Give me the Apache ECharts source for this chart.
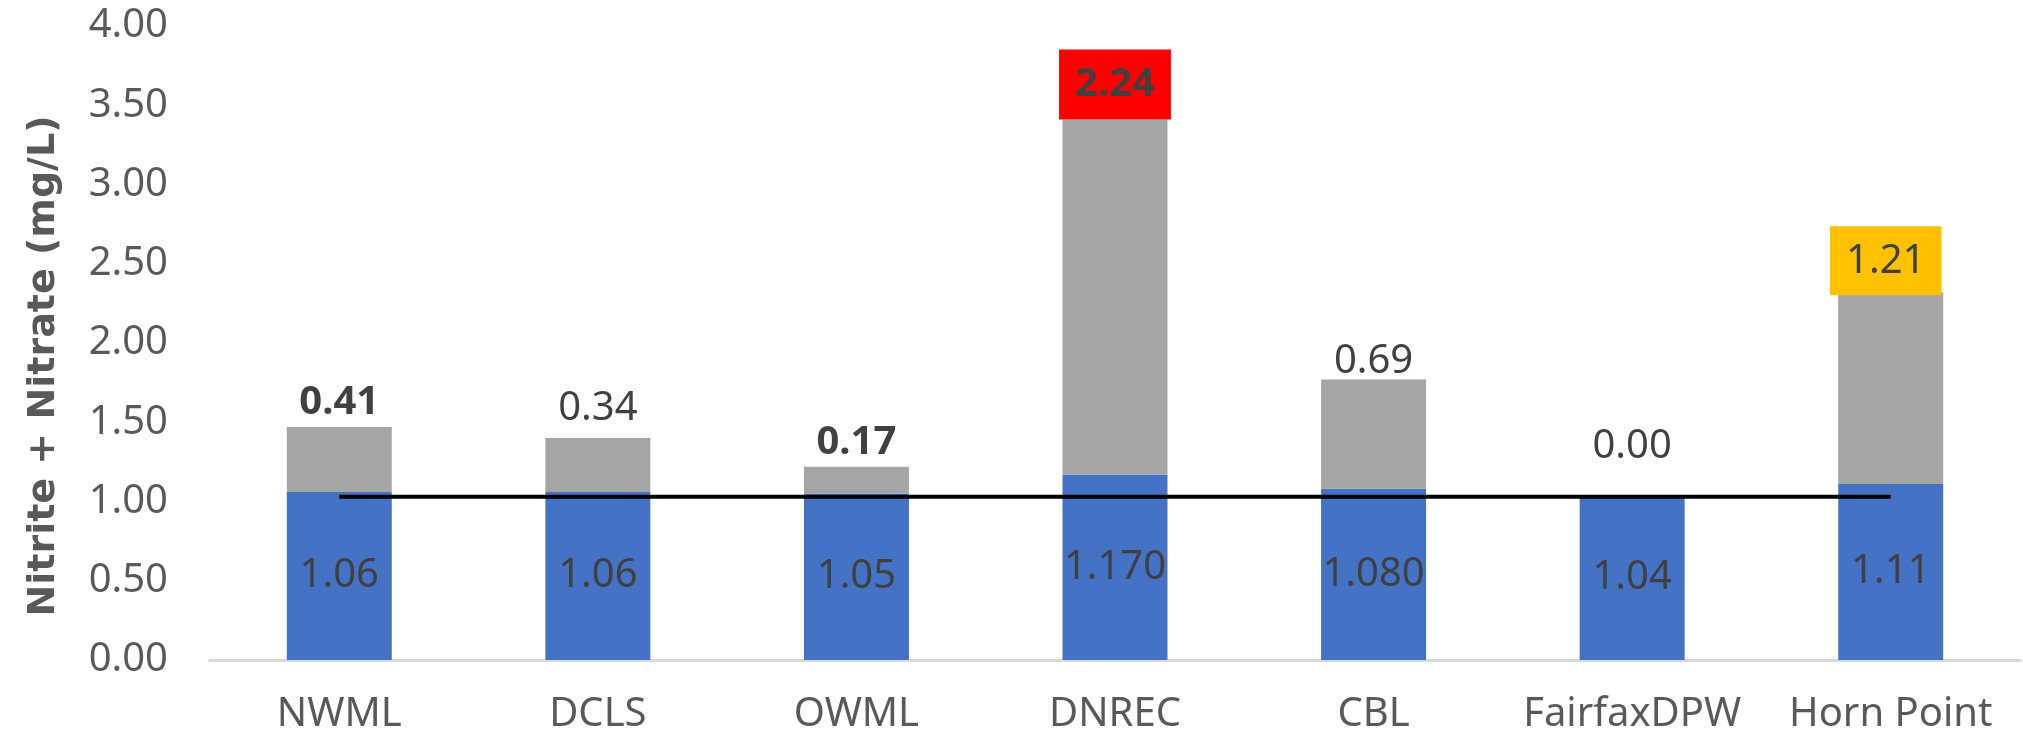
<!DOCTYPE html>
<html><head><meta charset="utf-8">
<script src="https://cdn.jsdelivr.net/npm/echarts@6/dist/echarts.min.js"></script>
<style>html,body{margin:0;padding:0;background:#fff}#c{width:2023px;height:745px}</style>
</head><body><div id="c"></div>
<script>
var categories = ['NWML','DCLS','OWML','DNREC','CBL','FairfaxDPW','Horn Point'];
var blueValues = [1.06, 1.06, 1.05, 1.17, 1.08, 1.04, 1.11];
var blueLabels = ['1.06','1.06','1.05','1.170','1.080','1.04','1.11'];
var grayValues = [0.41, 0.34, 0.17, 2.24, 0.69, 0.00, 1.21];
var refLine = [1.03, 1.03, 1.03, 1.03, 1.03, 1.03, 1.03];
var yTicks = ['0.00','0.50','1.00','1.50','2.00','2.50','3.00','3.50','4.00'];

var FONT = '"Noto Sans", "Open Sans", sans-serif';
var TXT = '#404040';
var FS = 40;

// per-item label styling for the gray series
function grayLabel(i) {
  var base = { show: true, position: 'top', distance: 4, color: TXT, fontSize: FS, fontFamily: FONT,
               formatter: function (p) { return p.value.toFixed(2); } };
  if (i === 0 || i === 2) base.fontWeight = 'bold';
  if (i === 3) { base.fontWeight = 'bold'; base.backgroundColor = '#FF0000'; base.padding = [15, 16, 15, 16]; base.distance = 0; }
  if (i === 6) { base.backgroundColor = '#FFC000'; base.padding = [15, 16, 14, 16]; base.distance = 0; base.offset = [-5, 3]; }
  if (i === 5) base.offset = [0, -25];
  if (i === 4) base.offset = [0, 6];
  if (i === 1) base.offset = [0, -5];
  return base;
}

var chart = echarts.init(document.getElementById('c'), null, { renderer: 'canvas' });
chart.setOption({
  backgroundColor: '#ffffff',
  animation: false,
  grid: { left: 210, right: 3, top: 26, bottom: 85, containLabel: false },
  xAxis: {
    type: 'category', data: categories,
    axisLine: { show: true, lineStyle: { color: '#D9D9D9', width: 3 } },
    axisTick: { show: false },
    axisLabel: { interval: 0, color: '#595959', fontSize: FS, fontFamily: FONT, margin: 35 }
  },
  yAxis: {
    type: 'value', min: 0, max: 4, interval: 0.5,
    name: 'Nitrite + Nitrate (mg/L)', nameLocation: 'middle', nameGap: 147, nameRotate: 90,
    nameTextStyle: { color: '#595959', fontSize: 38, fontWeight: 'bold', fontFamily: '"DejaVu Sans", sans-serif',
                     padding: [0, 46, 0, 0] },
    axisLine: { show: false }, axisTick: { show: false },
    splitLine: { show: false },
    axisLabel: { color: '#595959', fontSize: FS, fontFamily: FONT, margin: 42,
                 formatter: function (v) { return yTicks[Math.round(v / 0.5)]; } }
  },
  series: [
    {
      name: 'blue', type: 'bar', stack: 's', barWidth: '40.6%',
      itemStyle: { color: '#4472C4' },
      label: { show: true, position: 'inside', color: TXT, fontSize: FS, fontFamily: FONT,
               formatter: function (p) { return blueLabels[p.dataIndex]; } },
      data: blueValues
    },
    {
      name: 'gray', type: 'bar', stack: 's', barWidth: '40.6%',
      itemStyle: { color: '#A5A5A5' },
      data: grayValues.map(function (v, i) { return { value: v, label: grayLabel(i) }; })
    },
    {
      name: 'ref', type: 'line', data: refLine, symbol: 'none', z: 10,
      lineStyle: { color: '#000000', width: 4 }
    }
  ]
});
</script></body></html>
